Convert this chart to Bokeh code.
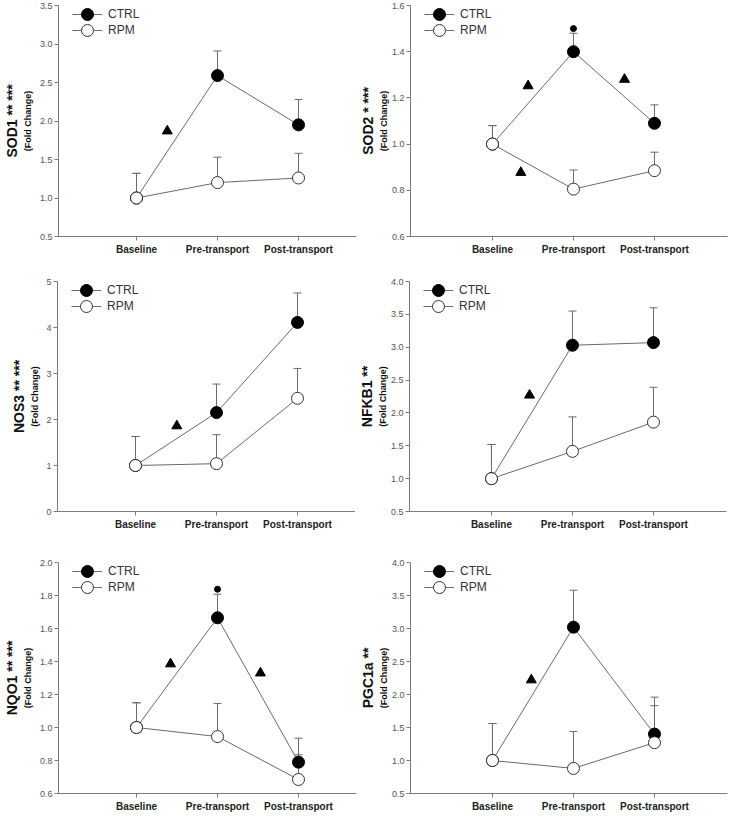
from bokeh.plotting import figure
from bokeh.models import (Range1d, FixedTicker, LinearAxis, Whisker, TeeHead,
                          ColumnDataSource, Legend, LegendItem, PrintfTickFormatter)
from bokeh.layouts import column, row
from bokeh.embed import file_html
from bokeh.resources import INLINE

categories = ["Baseline", "Pre-transport", "Post-transport"]
series_names = ["CTRL", "RPM"]

# ---- data (fold change, upper SEM) ----
sod1_ctrl = [1.00, 2.59, 1.95]
sod1_ctrl_err = [0.32, 0.32, 0.33]
sod1_rpm = [1.00, 1.20, 1.26]
sod1_rpm_err = [0.32, 0.33, 0.32]
sod1_tri_x = [1.38]
sod1_tri_y = [1.87]
sod1_dot_x = []
sod1_dot_y = []
sod1_ticks = [0.5, 1.0, 1.5, 2.0, 2.5, 3.0, 3.5]

sod2_ctrl = [1.00, 1.40, 1.09]
sod2_ctrl_err = [0.08, 0.08, 0.08]
sod2_rpm = [1.00, 0.805, 0.885]
sod2_rpm_err = [0.08, 0.083, 0.08]
sod2_tri_x = [1.44, 2.63, 1.35]
sod2_tri_y = [1.252, 1.28, 0.877]
sod2_dot_x = [2.0]
sod2_dot_y = [1.50]
sod2_ticks = [0.6, 0.8, 1.0, 1.2, 1.4, 1.6]

nos3_ctrl = [1.00, 2.15, 4.11]
nos3_ctrl_err = [0.63, 0.62, 0.64]
nos3_rpm = [1.00, 1.04, 2.46]
nos3_rpm_err = [0.63, 0.63, 0.65]
nos3_tri_x = [1.51]
nos3_tri_y = [1.86]
nos3_dot_x = []
nos3_dot_y = []
nos3_ticks = [0, 1, 2, 3, 4, 5]

nfkb1_ctrl = [1.00, 3.03, 3.07]
nfkb1_ctrl_err = [0.52, 0.52, 0.53]
nfkb1_rpm = [1.00, 1.415, 1.86]
nfkb1_rpm_err = [0.52, 0.525, 0.53]
nfkb1_tri_x = [1.47]
nfkb1_tri_y = [2.27]
nfkb1_dot_x = []
nfkb1_dot_y = []
nfkb1_ticks = [0.5, 1.0, 1.5, 2.0, 2.5, 3.0, 3.5, 4.0]

nqo1_ctrl = [1.00, 1.665, 0.79]
nqo1_ctrl_err = [0.15, 0.143, 0.145]
nqo1_rpm = [1.00, 0.945, 0.685]
nqo1_rpm_err = [0.15, 0.20, 0.15]
nqo1_tri_x = [1.42, 2.53]
nqo1_tri_y = [1.385, 1.33]
nqo1_dot_x = [2.0]
nqo1_dot_y = [1.838]
nqo1_ticks = [0.6, 0.8, 1.0, 1.2, 1.4, 1.6, 1.8, 2.0]

pgc1a_ctrl = [1.00, 3.02, 1.40]
pgc1a_ctrl_err = [0.56, 0.56, 0.56]
pgc1a_rpm = [1.00, 0.88, 1.27]
pgc1a_rpm_err = [0.56, 0.56, 0.56]
pgc1a_tri_x = [1.48]
pgc1a_tri_y = [2.22]
pgc1a_dot_x = []
pgc1a_dot_y = []
pgc1a_ticks = [0.5, 1.0, 1.5, 2.0, 2.5, 3.0, 3.5, 4.0]

FONT = "Liberation Sans"
AX = "#7a7a7a"
LN = "#6a6a6a"


def panel(title, ctrl, ctrl_err, rpm, rpm_err, tri_x, tri_y, dot_x, dot_y,
          ticks, fmt, side, rowi):
    xs = [i + 1 for i in range(len(categories))]
    if side == "L":
        fw, bl, br, x0, fs = 298, 57, 0, 0.037, 4
    else:
        fw, bl, br, x0, fs = 317, 49, 13, -0.012, 0
    ts = 0
    x1 = x0 + fw / 81.0
    bt, fh, bb = [(5, 231, 34), (11, 230, 34), (17, 231, 25)][rowi]
    p = figure(frame_width=fw, frame_height=fh, output_backend="svg", toolbar_location=None,
               x_range=Range1d(x0, x1), y_range=Range1d(ticks[0], ticks[-1]),
               min_border_left=bl, min_border_right=br, min_border_top=bt,
               min_border_bottom=bb, background_fill_color="white",
               border_fill_color="white")
    p.outline_line_color = None
    p.grid.visible = False

    # axes
    p.xaxis.ticker = FixedTicker(ticks=xs)
    p.xaxis.major_label_overrides = {x: c for x, c in zip(xs, categories)}
    p.xaxis.major_label_text_font = FONT
    p.xaxis.major_label_text_font_style = "bold"
    p.xaxis.major_label_text_font_size = "10px"
    p.xaxis.major_label_text_color = "#222222"
    p.xaxis.major_label_standoff = 3
    p.yaxis.ticker = FixedTicker(ticks=ticks)
    p.yaxis.formatter = PrintfTickFormatter(format=fmt)
    p.yaxis.major_label_text_font = FONT
    p.yaxis.major_label_text_font_size = "9px"
    p.yaxis.major_label_text_color = "#555555"
    p.yaxis.major_label_standoff = 2
    for ax in (p.xaxis, p.yaxis):
        ax.axis_line_color = AX
        ax.major_tick_line_color = AX
        ax.major_tick_out = 4
        ax.major_tick_in = 0
        ax.minor_tick_line_color = None

    for lab, size, std in (("(Fold Change)", "9px", fs), (title, "14px", ts)):
        a = LinearAxis(ticker=FixedTicker(ticks=[]), axis_label=lab,
                       axis_line_color=None, major_tick_line_color=None,
                       minor_tick_line_color=None, major_label_text_font_size="0px",
                       major_tick_out=0, major_tick_in=0, minor_tick_out=0,
                       minor_tick_in=0, major_label_standoff=0,
                       axis_label_standoff=std, axis_label_text_font=FONT,
                       axis_label_text_font_style="bold", axis_label_text_font_size=size,
                       axis_label_text_color="#111111")
        p.add_layout(a, "left")

    # error bars
    for vals, errs in ((ctrl, ctrl_err), (rpm, rpm_err)):
        src = ColumnDataSource(dict(x=xs, lo=vals, up=[v + e for v, e in zip(vals, errs)]))
        w = Whisker(source=src, base="x", lower="lo", upper="up", dimension="height",
                    line_color=LN, line_width=1, lower_head=None,
                    upper_head=TeeHead(size=8, line_color=LN, line_width=1),
                    level="underlay")
        p.add_layout(w)

    l1 = p.line(xs, ctrl, line_color=LN, line_width=1)
    c1 = p.scatter(xs, ctrl, size=12, fill_color="black", line_color="black")
    l2 = p.line(xs, rpm, line_color=LN, line_width=1)
    c2 = p.scatter(xs, rpm, size=12, fill_color="white", line_color="#333333", line_width=1)

    if tri_x:
        p.scatter(tri_x, tri_y, marker="triangle", size=10, fill_color="black",
                  line_color="black")
    if dot_x:
        p.scatter(dot_x, dot_y, size=6, fill_color="black", line_color="black")

    for k, (name, rends) in enumerate(zip(series_names, ([l1, c1], [l2, c2]))):
        leg = Legend(items=[LegendItem(label=name, renderers=rends)],
                     location=(14, fh - 24 - 16 * k), glyph_width=30, glyph_height=30,
                     label_height=30, padding=0, margin=0,
                     label_standoff=6, border_line_color=None,
                     background_fill_alpha=0, label_text_font=FONT,
                     label_text_font_size="12px", label_text_color="#333333")
        p.add_layout(leg)
    return p


p1 = panel("SOD1 ** ***", sod1_ctrl, sod1_ctrl_err, sod1_rpm, sod1_rpm_err,
           sod1_tri_x, sod1_tri_y, sod1_dot_x, sod1_dot_y, sod1_ticks, "%.1f", "L", 0)
p2 = panel("SOD2 * ***", sod2_ctrl, sod2_ctrl_err, sod2_rpm, sod2_rpm_err,
           sod2_tri_x, sod2_tri_y, sod2_dot_x, sod2_dot_y, sod2_ticks, "%.1f", "R", 0)
p3 = panel("NOS3 ** ***", nos3_ctrl, nos3_ctrl_err, nos3_rpm, nos3_rpm_err,
           nos3_tri_x, nos3_tri_y, nos3_dot_x, nos3_dot_y, nos3_ticks, "%d", "L", 1)
p4 = panel("NFKB1 **", nfkb1_ctrl, nfkb1_ctrl_err, nfkb1_rpm, nfkb1_rpm_err,
           nfkb1_tri_x, nfkb1_tri_y, nfkb1_dot_x, nfkb1_dot_y, nfkb1_ticks, "%.1f", "R", 1)
p5 = panel("NQO1 ** ***", nqo1_ctrl, nqo1_ctrl_err, nqo1_rpm, nqo1_rpm_err,
           nqo1_tri_x, nqo1_tri_y, nqo1_dot_x, nqo1_dot_y, nqo1_ticks, "%.1f", "L", 2)
p6 = panel("PGC1a **", pgc1a_ctrl, pgc1a_ctrl_err, pgc1a_rpm, pgc1a_rpm_err,
           pgc1a_tri_x, pgc1a_tri_y, pgc1a_dot_x, pgc1a_dot_y, pgc1a_ticks, "%.1f", "R", 2)

layout = column(row(p1, p2, spacing=0), row(p3, p4, spacing=0), row(p5, p6, spacing=0),
                spacing=0)
open("out.html", "w").write(file_html(layout, INLINE))
